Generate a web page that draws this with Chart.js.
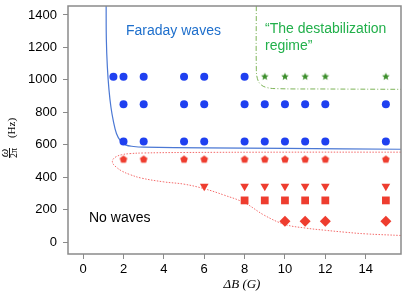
<!DOCTYPE html>
<html>
<head>
<meta charset="utf-8">
<script src="https://cdn.jsdelivr.net/npm/chart.js@4.4.1/dist/chart.umd.min.js"></script>
<style>
  html, body { margin: 0; padding: 0; background: #fff; }
  #wrap { width: 415px; height: 300px; }
</style>
</head>
<body>
<div id="wrap"><canvas id="chart"></canvas></div>
<script>
// axis ticks
const xTicks = [0, 2, 4, 6, 8, 10, 12, 14];
const yTicks = [0, 200, 400, 600, 800, 1000, 1200, 1400];

// Faraday waves (blue circles)
const faradayX = [1.5, 2, 3, 5, 6, 8,
                  2, 3, 5, 6, 8, 9, 10, 11, 12, 15,
                  2, 3, 5, 6, 8, 9, 10, 11, 12, 15];
const faradayY = [1020, 1020, 1020, 1020, 1020, 1020,
                  850, 850, 850, 850, 850, 850, 850, 850, 850, 850,
                  620, 620, 620, 620, 620, 620, 620, 620, 620, 620];

// destabilization regime (green stars)
const destabX = [9, 10, 11, 12, 15];
const destabY = [1020, 1020, 1020, 1020, 1020];

// no waves (red markers)
const pentX = [2, 3, 5, 6, 8, 9, 10, 11, 12, 15];
const pentY = [510, 510, 510, 510, 510, 510, 510, 510, 510, 510];
const triX = [6, 8, 9, 10, 11, 12, 15];
const triY = [345, 345, 345, 345, 345, 345, 345];
const squareX = [8, 9, 10, 11, 12, 15];
const squareY = [258, 258, 258, 258, 258, 258];
const diamondX = [10, 11, 12, 15];
const diamondY = [130, 130, 130, 130];

// boundary curves
const blueCurveX = [1.14, 1.15, 1.2, 1.28, 1.38, 1.5, 1.65, 1.85, 2.1, 2.5, 3, 6, 10, 15.75];
const blueCurveY = [1455, 1250, 1080, 940, 830, 745, 670, 625, 600, 590, 586, 582, 578, 573];

const greenCurveX = [8.58, 8.58, 8.63, 8.8, 9.1, 9.6, 12, 15.75];
const greenCurveY = [1455, 1080, 1010, 972, 953, 946, 944, 942];

const redCurveX = [15.75, 10, 5, 3, 2.3, 1.9, 1.65, 1.5, 1.45, 1.5, 1.65, 1.9, 2.3, 2.9, 4, 5, 6, 7, 8, 9, 10, 11, 12, 13, 14, 15.75];
const redCurveY = [555, 555, 553, 550, 546, 539, 528, 514, 498, 480, 462, 440, 418, 395, 372, 358, 330, 290, 243, 165, 110, 88, 74, 62, 52, 42];

function pts(xs, ys) {
    return xs.map((x, i) => ({ x: x, y: ys[i] }));
}

function makeStar(r, color) {
    const c = document.createElement('canvas');
    c.width = c.height = r * 2 + 2;
    const g = c.getContext('2d');
    g.fillStyle = color;
    g.beginPath();
    for (let i = 0; i < 10; i++) {
        const rad = i % 2 === 0 ? r : r * 0.45;
        const a = -Math.PI / 2 + i * Math.PI / 5;
        g.lineTo(r + 1 + rad * Math.cos(a), r + 1 + rad * Math.sin(a));
    }
    g.closePath();
    g.fill();
    return c;
}

function makePentagon(r, color) {
    const c = document.createElement('canvas');
    c.width = c.height = r * 2 + 2;
    const g = c.getContext('2d');
    g.fillStyle = color;
    g.beginPath();
    for (let i = 0; i < 5; i++) {
        const a = -Math.PI / 2 + i * 2 * Math.PI / 5;
        g.lineTo(r + 1 + r * Math.cos(a), r + 1 + r * Math.sin(a));
    }
    g.closePath();
    g.fill();
    return c;
}

const RED = '#ee3d2f';
const BLUE = '#1f40f0';
const SERIF = '"Liberation Serif", "Times New Roman", serif';

// texts, box and the y axis title
const overlayPlugin = {
    id: 'overlay',
    afterDraw(chart) {
        const ctx = chart.ctx;
        const a = chart.chartArea;
        ctx.save();
        ctx.strokeStyle = '#8a8a8a';
        ctx.lineWidth = 1.5;
        ctx.strokeRect(a.left, a.top, a.right - a.left, a.bottom - a.top);

        ctx.textBaseline = 'middle';
        ctx.textAlign = 'left';
        ctx.font = '14px "Liberation Sans", Arial, sans-serif';
        ctx.fillStyle = '#1e6fcc';
        ctx.fillText('Faraday waves', 126, 31);
        ctx.fillStyle = '#22b04b';
        ctx.fillText('\u201CThe destabilization', 265, 29);
        ctx.fillText('regime\u201D', 265, 46);
        ctx.fillStyle = '#000';
        ctx.fillText('No waves', 89, 218);

        // x title
        ctx.textAlign = 'center';
        ctx.font = 'italic 13px ' + SERIF;
        ctx.fillText('\u0394B (G)', 242, 285);

        // y title, rotated
        ctx.rotate(-Math.PI / 2);
        ctx.font = 'italic 12px ' + SERIF;
        ctx.fillText('\u03C9', -153, 4.5);
        ctx.font = '10px ' + SERIF;
        ctx.fillText('2\u03C0', -153, 14.5);
        ctx.lineWidth = 0.9;
        ctx.strokeStyle = '#000';
        ctx.beginPath();
        ctx.moveTo(-158, 9.5);
        ctx.lineTo(-148, 9.5);
        ctx.stroke();
        ctx.font = '11px ' + SERIF;
        ctx.fillText('(Hz)', -128, 12);
        ctx.restore();
    }
};

const tickFont = { family: '"Liberation Sans", Arial, sans-serif', size: 13 };

new Chart(document.getElementById('chart'), {
    type: 'scatter',
    data: {
        datasets: [
            {
                data: pts(blueCurveX, blueCurveY),
                showLine: true, pointRadius: 0, borderColor: '#4b78d4', borderWidth: 1.2,
                tension: 0.4, order: 5
            },
            {
                data: pts(greenCurveX, greenCurveY),
                showLine: true, pointRadius: 0, borderColor: '#7cb356', borderWidth: 1,
                borderDash: [5, 2, 1, 2], tension: 0.4, order: 5
            },
            {
                data: pts(redCurveX, redCurveY),
                showLine: true, pointRadius: 0, borderColor: '#f36a6a', borderWidth: 1,
                borderDash: [1.5, 1.5], tension: 0.4, order: 5
            },
            {
                data: pts(faradayX, faradayY),
                pointStyle: 'circle', pointRadius: 4, backgroundColor: BLUE, borderWidth: 0, order: 1
            },
            {
                data: pts(destabX, destabY),
                pointStyle: makeStar(4, '#3b8e2a'), order: 1
            },
            {
                data: pts(pentX, pentY),
                pointStyle: makePentagon(4, RED), order: 1
            },
            {
                data: pts(triX, triY),
                pointStyle: 'triangle', rotation: 180, pointRadius: 5, backgroundColor: RED, borderWidth: 0, order: 1
            },
            {
                data: pts(squareX, squareY),
                pointStyle: 'rect', pointRadius: 5.5, backgroundColor: RED, borderWidth: 0, order: 1
            },
            {
                data: pts(diamondX, diamondY),
                pointStyle: 'rectRot', pointRadius: 5.5, backgroundColor: RED, borderWidth: 0, order: 1
            }
        ]
    },
    options: {
        responsive: true,
        maintainAspectRatio: false,
        animation: false,
        layout: { padding: { top: 6, right: 14, left: 0, bottom: 0 } },
        plugins: {
            legend: { display: false },
            tooltip: { enabled: false }
        },
        scales: {
            x: {
                type: 'linear',
                min: -0.75,
                max: 15.75,
                afterBuildTicks: axis => { axis.ticks = xTicks.map(v => ({ value: v })); },
                afterFit: axis => { axis.height = 46; axis.paddingLeft = 0; axis.paddingRight = 0; },
                grid: { drawOnChartArea: false, drawTicks: true, tickLength: 5, color: '#8a8a8a' },
                border: { display: false },
                ticks: { color: '#000', font: tickFont, padding: 3, maxRotation: 0, callback: v => String(v) }
            },
            y: {
                type: 'linear',
                min: -72,
                max: 1455,
                afterBuildTicks: axis => { axis.ticks = yTicks.map(v => ({ value: v })); },
                afterFit: axis => { axis.width = 68; axis.paddingTop = 0; axis.paddingBottom = 0; },
                grid: { drawOnChartArea: false, drawTicks: true, tickLength: 5, color: '#8a8a8a' },
                border: { display: false },
                ticks: { color: '#000', font: tickFont, padding: 6, callback: v => String(v) }
            }
        }
    },
    plugins: [overlayPlugin]
});
</script>
</body>
</html>
